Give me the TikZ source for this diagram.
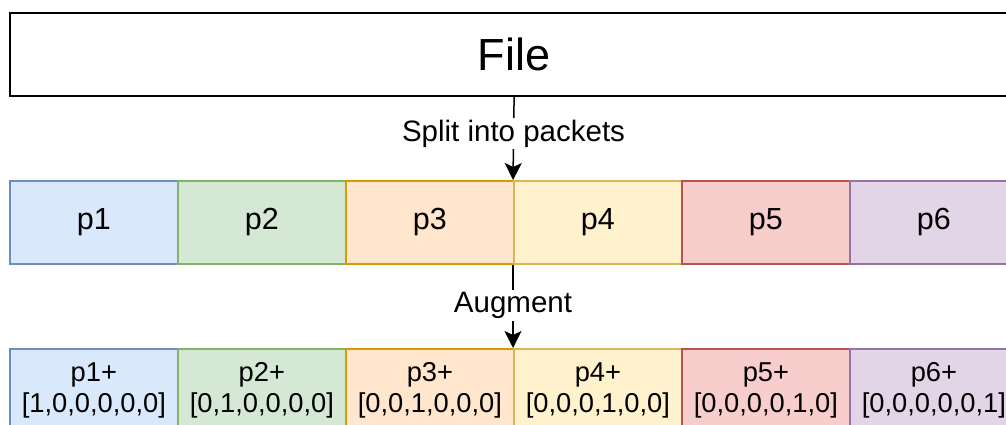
\documentclass[tikz,border=0pt]{standalone}
\usepackage{fontspec}
\setmainfont{Liberation Sans}
\usetikzlibrary{arrows.meta}
\definecolor{fA}{HTML}{DAE8FC}\definecolor{dA}{HTML}{6C8EBF}
\definecolor{fB}{HTML}{D5E8D4}\definecolor{dB}{HTML}{82B366}
\definecolor{fC}{HTML}{FFE6CC}\definecolor{dC}{HTML}{D79B00}
\definecolor{fD}{HTML}{FFF2CC}\definecolor{dD}{HTML}{D6B656}
\definecolor{fE}{HTML}{F8CECC}\definecolor{dE}{HTML}{B85450}
\definecolor{fF}{HTML}{E1D5E7}\definecolor{dF}{HTML}{9673A6}
\tikzset{
  pkt/.style={draw=#1, line width=1.8pt, minimum width=168, minimum height=83, anchor=north west, inner sep=0pt, font=\fontsize{30.5}{36}\selectfont},
  aug/.style={draw=#1, line width=1.8pt, minimum width=168, minimum height=83, anchor=north west, inner sep=0pt, align=center, font=\fontsize{27.3}{31.5}\selectfont},
  arr/.style={line width=1.5pt, -{Stealth[length=17pt,width=17pt,inset=4pt]}},
  lbl/.style={fill=white, inner sep=2pt, anchor=base, font=\fontsize{29.5}{34}\selectfont}
}
\begin{document}
\begin{tikzpicture}[x=1pt,y=-1pt]
\useasboundingbox (0,0) rectangle (1006,425);
\clip (0,0) rectangle (1006,425);
\node[draw, line width=2.2pt, minimum width=1008, minimum height=83, anchor=north west, inner sep=0pt, font=\fontsize{45}{54}\selectfont] (file) at (9,12) {File};
\node[pkt=dA, fill=fA] (p1) at (9,180) {p1};
\node[pkt=dB, fill=fB] (p2) at (177,180) {p2};
\node[pkt=dC, fill=fC] (p3) at (345,180) {p3};
\node[pkt=dD, fill=fD] (p4) at (513,180) {p4};
\node[pkt=dE, fill=fE] (p5) at (681,180) {p5};
\node[pkt=dF, fill=fF] (p6) at (849,180) {p6};
\node[aug=dA, fill=fA] (q1) at (9,348) {p1+\\{}[1,0,0,0,0,0]};
\node[aug=dB, fill=fB] (q2) at (177,348) {p2+\\{}[0,1,0,0,0,0]};
\node[aug=dC, fill=fC] (q3) at (345,348) {p3+\\{}[0,0,1,0,0,0]};
\node[aug=dD, fill=fD] (q4) at (513,348) {p4+\\{}[0,0,0,1,0,0]};
\node[aug=dE, fill=fE] (q5) at (681,348) {p5+\\{}[0,0,0,0,1,0]};
\node[aug=dF, fill=fF] (q6) at (849,348) {p6+\\{}[0,0,0,0,0,1]};
\draw[arr] (file.south) -- node[lbl, pos=0.53] {Split into packets} (p4.north west);
\draw[arr] (p4.south west) -- node[lbl, pos=0.576] {Augment} (q4.north west);
\end{tikzpicture}
\end{document}
